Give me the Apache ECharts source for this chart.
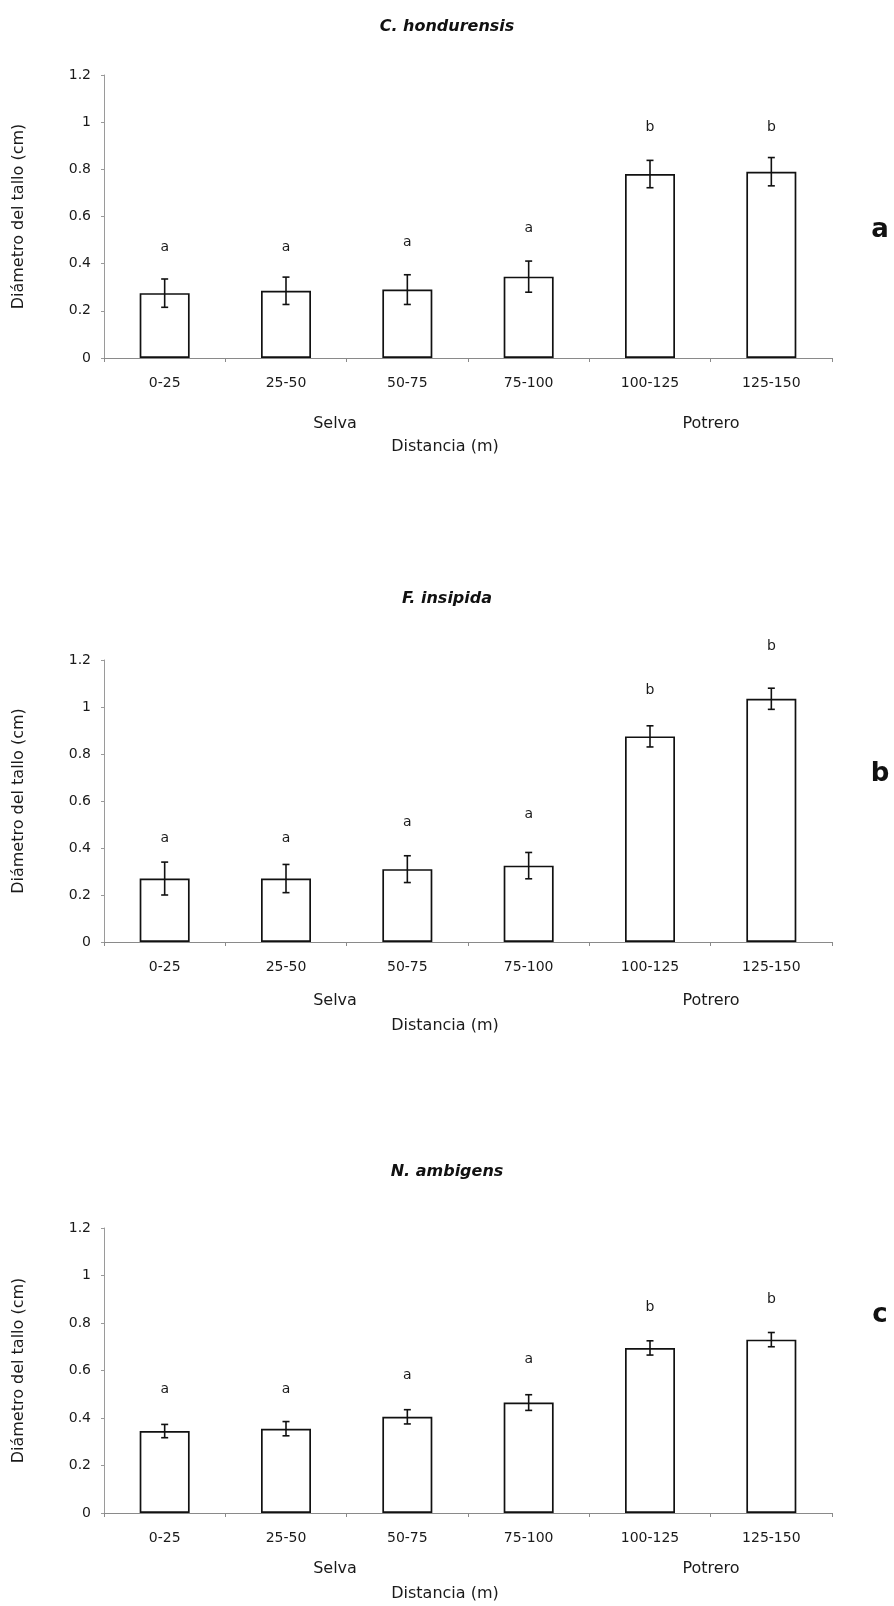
<!DOCTYPE html>
<html>
<head>
<meta charset="utf-8">
<script src="https://cdn.jsdelivr.net/npm/echarts@6/dist/echarts.min.js"></script>
<style>
html,body{margin:0;padding:0;background:#fff;}
#chart{width:894px;height:1606px;}
</style>
</head>
<body>
<div id="chart"></div>
<script>
// ---- data ----
const categories = ['0-25', '25-50', '50-75', '75-100', '100-125', '125-150'];
const yTicks = [0, 0.2, 0.4, 0.6, 0.8, 1, 1.2];

const titles = ['C. hondurensis', 'F. insipida', 'N. ambigens'];
const panelLetters = ['a', 'b', 'c'];
const habitatLabels = ['Selva', 'Potrero'];
const yAxisTitle = 'Diámetro del tallo (cm)';
const xAxisTitle = 'Distancia (m)';

// C. hondurensis
const meansA = [0.275, 0.285, 0.29, 0.345, 0.78, 0.79];
const errA = [0.060, 0.058, 0.063, 0.066, 0.058, 0.060];
const lettersA = ['a', 'a', 'a', 'a', 'b', 'b'];
const letterHeightA = [0.47, 0.47, 0.49, 0.55, 0.98, 0.98];

// F. insipida
const meansB = [0.27, 0.27, 0.31, 0.325, 0.875, 1.035];
const errB = [0.070, 0.060, 0.057, 0.056, 0.045, 0.045];
const lettersB = ['a', 'a', 'a', 'a', 'b', 'b'];
const letterHeightB = [0.44, 0.44, 0.51, 0.545, 1.07, 1.26];

// N. ambigens
const meansC = [0.345, 0.355, 0.405, 0.465, 0.695, 0.73];
const errC = [0.028, 0.030, 0.030, 0.033, 0.030, 0.030];
const lettersC = ['a', 'a', 'a', 'a', 'b', 'b'];
const letterHeightC = [0.52, 0.52, 0.58, 0.645, 0.865, 0.90];

// ---- layout ----
const FONT = 'DejaVu Sans';
const panels = [
  {means: meansA, err: errA, letters: lettersA, lh: letterHeightA, top: 75, height: 283, titleY: 27, habY: 424, xnameY: 447, sideY: 230},
  {means: meansB, err: errB, letters: lettersB, lh: letterHeightB, top: 660, height: 282, titleY: 599, habY: 1001, xnameY: 1026, sideY: 774},
  {means: meansC, err: errC, letters: lettersC, lh: letterHeightC, top: 1228, height: 285, titleY: 1172, habY: 1569, xnameY: 1594, sideY: 1315}
];

const grids = [], xAxes = [], yAxes = [], series = [], graphics = [];

panels.forEach((p, k) => {
  grids.push({left: 104, right: 62, top: p.top, height: p.height, containLabel: false});
  xAxes.push({
    type: 'category', gridIndex: k, data: categories,
    axisLine: {lineStyle: {color: '#8a8a8a', width: 1}},
    axisTick: {show: true, length: 4, lineStyle: {color: '#8a8a8a'}},
    axisLabel: {fontFamily: FONT, fontSize: 14, color: '#1a1a1a', margin: 18}
  });
  yAxes.push({
    type: 'value', gridIndex: k, min: 0, max: 1.2, interval: 0.2,
    name: yAxisTitle, nameLocation: 'middle', nameGap: 77,
    nameTextStyle: {fontFamily: FONT, fontSize: 16, color: '#1a1a1a'},
    axisLine: {show: true, lineStyle: {color: '#9a9a9a', width: 1}},
    axisTick: {show: true, length: 3, lineStyle: {color: '#9a9a9a'}},
    splitLine: {show: false},
    axisLabel: {fontFamily: FONT, fontSize: 14, color: '#1a1a1a', margin: 13,
      formatter: v => String(Math.round(v * 10) / 10)}
  });
  series.push({
    type: 'bar', xAxisIndex: k, yAxisIndex: k, data: p.means, barWidth: 50, z: 2,
    itemStyle: {color: '#fff', borderColor: '#111', borderWidth: 1.7},
    silent: true, animation: false
  });
  // error bars
  series.push({
    type: 'custom', xAxisIndex: k, yAxisIndex: k, clip: false, animation: false, z: 5,
    data: p.means.map((m, i) => [i, m - p.err[i], m + p.err[i]]),
    renderItem: (params, api) => {
      const lo = api.coord([api.value(0), api.value(1)]);
      const hi = api.coord([api.value(0), api.value(2)]);
      const c = 3.5;
      const st = {stroke: '#111', lineWidth: 1.6};
      return {type: 'group', children: [
        {type: 'line', shape: {x1: lo[0], y1: lo[1], x2: hi[0], y2: hi[1]}, style: st},
        {type: 'line', shape: {x1: hi[0] - c, y1: hi[1], x2: hi[0] + c, y2: hi[1]}, style: st},
        {type: 'line', shape: {x1: lo[0] - c, y1: lo[1], x2: lo[0] + c, y2: lo[1]}, style: st}
      ]};
    }
  });
  // significance letters
  series.push({
    type: 'custom', xAxisIndex: k, yAxisIndex: k, clip: false, animation: false, z: 5,
    data: p.lh.map((h, i) => [i, h, p.letters[i]]),
    renderItem: (params, api) => {
      const pt = api.coord([api.value(0), api.value(1)]);
      return {type: 'text', x: pt[0], y: pt[1], style: {
        text: p.letters[params.dataIndex], fontFamily: FONT, fontSize: 14,
        fill: '#1a1a1a', align: 'center', verticalAlign: 'middle'}};
    }
  });
  // texts
  graphics.push({type: 'text', x: 447, y: p.titleY, style: {text: titles[k], fontFamily: FONT,
    fontSize: 16, fontWeight: 'bold', fontStyle: 'italic', fill: '#111', align: 'center', verticalAlign: 'middle'}});
  graphics.push({type: 'text', x: 335, y: p.habY, style: {text: habitatLabels[0], fontFamily: FONT,
    fontSize: 16, fill: '#1a1a1a', align: 'center', verticalAlign: 'middle'}});
  graphics.push({type: 'text', x: 711, y: p.habY, style: {text: habitatLabels[1], fontFamily: FONT,
    fontSize: 16, fill: '#1a1a1a', align: 'center', verticalAlign: 'middle'}});
  graphics.push({type: 'text', x: 445, y: p.xnameY, style: {text: xAxisTitle, fontFamily: FONT,
    fontSize: 16, fill: '#1a1a1a', align: 'center', verticalAlign: 'middle'}});
  graphics.push({type: 'text', x: 880, y: p.sideY, style: {text: panelLetters[k], fontFamily: FONT,
    fontSize: 26, fontWeight: 'bold', fill: '#111', align: 'center', verticalAlign: 'middle'}});
});

const chart = echarts.init(document.getElementById('chart'), null, {renderer: 'canvas'});
chart.setOption({
  backgroundColor: '#fff',
  animation: false,
  grid: grids, xAxis: xAxes, yAxis: yAxes, series: series, graphic: graphics
});
</script>
</body>
</html>
